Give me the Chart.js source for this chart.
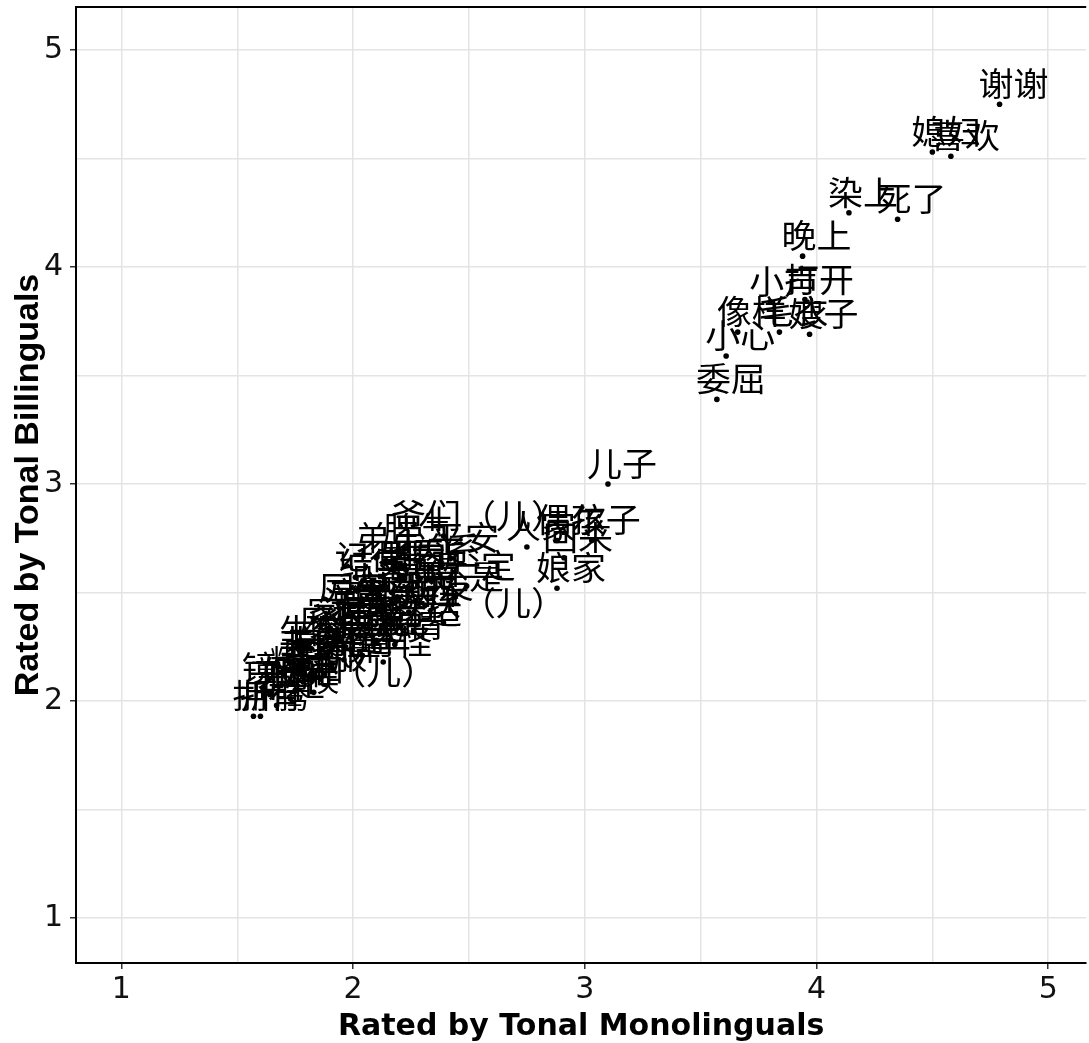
<!DOCTYPE html>
<html>
<head>
<meta charset="utf-8">
<script src="https://cdn.jsdelivr.net/npm/chart.js@4"></script>
<style>
  html, body { margin: 0; padding: 0; background: #fff; overflow: hidden; }
  canvas { display: block; }
</style>
</head>
<body>
<canvas id="tonal_scatter" width="1089" height="1043"></canvas>
<script>

var words = ['谢谢', '媳妇', '喜欢', '染上', '死了', '晚上', '打开', '小声', '像样', '毛衣', '嫂子', '小心', '委屈',
             '儿子', '人家', '偶尔', '孩子', '回来', '娘家',
             '爷们（儿）', '弟弟', '平安', '记得', '一定', '还是', '一块（儿）', '家里', '非常', '镜子', '拥有', '折腾',
             '好玩（儿）', '一些', '凉快', '时候', '帮忙', '舒服', '暖和', '客气', '打算', '知道', '麻烦', '衣服',
             '事情', '漂亮', '清楚', '休息', '地方', '厉害', '熟悉', '认识', '东西', '朋友', '意思', '觉得', '明白',
             '告诉', '关系', '生气', '辛苦', '高兴', '干净', '容易', '奇怪', '合适', '结实', '糊涂', '脾气'];

// rated by tonal monolinguals
var mono = [4.79, 4.50, 4.58, 4.14, 4.35, 3.94, 3.95, 3.80, 3.66, 3.84, 3.97, 3.61, 3.57,
            3.10, 2.75, 2.88, 3.03, 2.91, 2.88,
            2.39, 2.10, 2.42, 2.01, 2.49, 2.44, 2.39, 1.89, 1.77, 1.61, 1.57, 1.60,
            1.83, 2.04, 1.99, 1.73, 1.67, 1.85, 1.75, 1.79, 1.91, 1.96, 1.86, 1.99,
            2.18, 1.96, 2.10, 2.08, 2.16, 1.94, 2.12, 2.04, 2.24, 2.31, 2.19, 2.25, 2.20,
            2.28, 2.34, 1.77, 1.98, 1.81, 1.64, 1.90, 2.13, 2.26, 2.03, 1.73, 2.22];

// rated by tonal bilinguals
var bili = [4.75, 4.53, 4.51, 4.25, 4.22, 4.05, 3.85, 3.84, 3.70, 3.70, 3.69, 3.59, 3.39,
            3.00, 2.71, 2.74, 2.74, 2.66, 2.52,
            2.76, 2.66, 2.66, 2.57, 2.53, 2.48, 2.36, 2.32, 2.18, 2.06, 1.93, 1.93,
            2.04, 2.21, 2.24, 2.01, 1.98, 2.11, 2.05, 2.13, 2.15, 2.19, 2.28, 2.32,
            2.26, 2.36, 2.28, 2.40, 2.35, 2.43, 2.43, 2.47, 2.41, 2.44, 2.48, 2.52, 2.58,
            2.57, 2.61, 2.23, 2.40, 2.18, 2.03, 2.23, 2.18, 2.32, 2.54, 2.09, 2.70];

var axis_ticks = [1, 2, 3, 4, 5];

var points = mono.map(function (m, i) { return {x: m, y: bili[i]}; });

// draws the word of each point a bit above it
const word_labels = {
    id: 'word_labels',
    afterDatasetsDraw(chart) {
        const ctx = chart.ctx;
        const meta = chart.getDatasetMeta(0);
        const stretch = 1.06;
        ctx.save();
        ctx.font = '33px "Noto Sans CJK SC"';
        ctx.fillStyle = '#000';
        ctx.textAlign = 'left';
        ctx.textBaseline = 'alphabetic';
        meta.data.forEach(function (pt, i) {
            const w = ctx.measureText(words[i]).width * stretch;
            ctx.save();
            ctx.translate(pt.x - 0.3 * w, pt.y - 8);
            ctx.scale(stretch, 1);
            ctx.fillText(words[i], 0, 0);
            ctx.restore();
        });
        ctx.restore();
    },
    afterDraw(chart) {
        // panel border on top
        const ctx = chart.ctx;
        const a = chart.chartArea;
        ctx.save();
        ctx.strokeStyle = '#000';
        ctx.lineWidth = 2;
        ctx.beginPath();
        ctx.moveTo(a.left, a.top);
        ctx.lineTo(a.right, a.top);
        ctx.stroke();
        ctx.restore();
    }
};

function tick_mark_color(c) {
    return axis_ticks.indexOf(c.tick.value) >= 0 ? '#333' : 'rgba(0,0,0,0)';
}

function tick_text(v) {
    return axis_ticks.indexOf(v) >= 0 ? String(v) : '';
}

const data = {
    datasets: [{
        data: points,
        pointRadius: 2.8,
        pointHoverRadius: 2.8,
        backgroundColor: '#000',
        borderWidth: 0,
    }]
};

const config = {
    type: 'scatter',
    data: data,
    options: {
        responsive: false,
        animation: false,
        layout: { padding: { top: 7, right: 0, left: 0, bottom: 0 } },
        plugins: {
            legend: { display: false },
            tooltip: { enabled: false },
        },
        scales: {
            x: {
                type: 'linear',
                min: 0.804,
                max: 5.164,
                afterFit: function (s) { s.height = 80; s.paddingLeft = 0; s.paddingRight = 0; },
                ticks: {
                    stepSize: 0.5,
                    includeBounds: false,
                    autoSkip: false,
                    maxRotation: 0,
                    padding: 3,
                    color: '#111',
                    font: { family: 'DejaVu Sans', size: 30 },
                    callback: tick_text,
                },
                grid: {
                    color: '#e4e4e4',
                    lineWidth: 1.5,
                    tickLength: 6,
                    tickWidth: 1.5,
                    tickColor: tick_mark_color,
                },
                border: { display: true, color: '#000', width: 2 },
                title: {
                    display: true,
                    text: 'Rated by Tonal Monolinguals',
                    color: '#000',
                    font: { family: 'DejaVu Sans', size: 30, weight: 'bold', lineHeight: 1 },
                    padding: { top: 0, bottom: 1 },
                },
            },
            y: {
                type: 'linear',
                min: 0.793,
                max: 5.198,
                afterFit: function (s) { s.width = 76; s.paddingTop = 0; s.paddingBottom = 0; },
                ticks: {
                    stepSize: 0.5,
                    includeBounds: false,
                    autoSkip: false,
                    padding: 7,
                    color: '#111',
                    font: { family: 'DejaVu Sans', size: 30 },
                    callback: tick_text,
                },
                grid: {
                    color: '#e4e4e4',
                    lineWidth: 1.5,
                    tickLength: 6,
                    tickWidth: 1.5,
                    tickColor: tick_mark_color,
                },
                border: { display: true, color: '#000', width: 2 },
                title: {
                    display: true,
                    text: 'Rated by Tonal Billinguals',
                    color: '#000',
                    font: { family: 'Liberation Sans', size: 34, weight: 'bold' },
                    padding: { top: 8, bottom: 0 },
                },
            }
        }
    },
    plugins: [word_labels],
};

const myChart = new Chart(
    document.getElementById('tonal_scatter'),
    config
);
</script>
</body>
</html>
